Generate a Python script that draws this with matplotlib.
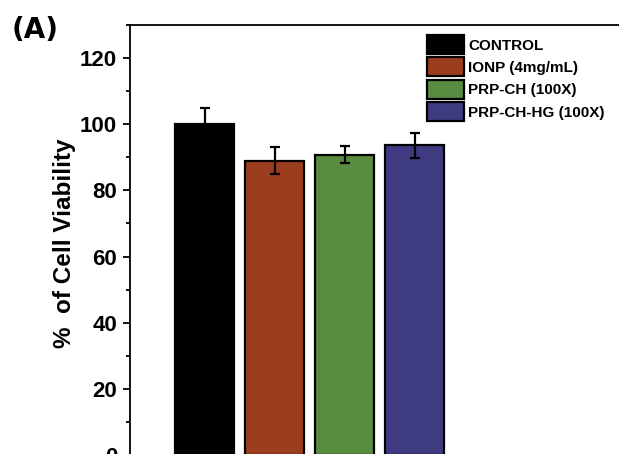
import matplotlib
matplotlib.use("Agg")
import matplotlib.pyplot as plt
from matplotlib.patches import Patch
from matplotlib.ticker import MultipleLocator
from matplotlib import font_manager

names = {f.name for f in font_manager.fontManager.ttflist}
narrow = 'Liberation Sans Narrow' if 'Liberation Sans Narrow' in names else 'Liberation Sans'

categories = ["CONTROL", "IONP (4mg/mL)", "PRP-CH (100X)", "PRP-CH-HG (100X)"]
values = [100.0, 89.0, 90.8, 93.6]
errors = [5.0, 4.0, 2.5, 3.8]
colors = ["#000000", "#9C3E1E", "#588C40", "#3F3B80"]
yticks = [0, 20, 40, 60, 80, 100, 120]

W, H = 619, 454
fig = plt.figure(figsize=(W / 100, H / 100), dpi=100)

# axes in pixel geometry
left_px, right_px, top_px, zero_px = 130, 640, 25, 455
ymax = 130
ax = fig.add_axes([left_px / W, 1 - zero_px / H, (right_px - left_px) / W, (zero_px - top_px) / H])

x = list(range(len(categories)))
ax.bar(x, values, width=0.857, color=colors, edgecolor="black", linewidth=1.6, zorder=2)
ax.errorbar(x, values, yerr=errors, fmt="none", ecolor="black", elinewidth=1.6,
            capsize=3.8, capthick=1.6, zorder=3)

c0 = 204.5
sp = 70.0
ax.set_xlim((left_px - c0) / sp, (right_px - c0) / sp)
ax.set_ylim(0, ymax)

for s in ["top", "left"]:
    ax.spines[s].set_linewidth(1.3)
for s in ["right", "bottom"]:
    ax.spines[s].set_visible(False)

ax.set_xticks([])
ax.set_yticks(yticks)
ax.yaxis.set_minor_locator(MultipleLocator(10))
ax.tick_params(axis="y", which="major", length=5, width=1.3, direction="out", pad=4.3)
ax.tick_params(axis="y", which="minor", length=3, width=1.3, direction="out")
for lab in ax.get_yticklabels():
    lab.set_fontfamily([narrow, 'DejaVu Sans'])
    lab.set_fontweight("bold")
    lab.set_fontsize(16)

fig.text(64 / W, 1 - 243 / H, "%  of Cell Viability", rotation=90, ha="center", va="center",
         fontsize=17.5, fontweight="bold", family=["Liberation Sans", "DejaVu Sans"])

fig.text(12 / W, 1 - 30 / H, "(A)", ha="left", va="center", fontsize=20, fontweight="heavy",
         family=["DejaVu Sans"])

handles = [Patch(facecolor=c, edgecolor="black", linewidth=1.6) for c in colors]
leg = fig.legend(handles, categories, loc="upper left",
                 bbox_to_anchor=(427 / W, 1 - 35 / H), frameon=False,
                 prop={"family": ["Liberation Sans", "DejaVu Sans"], "weight": "bold", "size": 11},
                 handlelength=2.4, handleheight=1.55, handletextpad=0.3,
                 labelspacing=0.21, borderpad=0, borderaxespad=0)

fig.savefig("out.png", dpi=100)
